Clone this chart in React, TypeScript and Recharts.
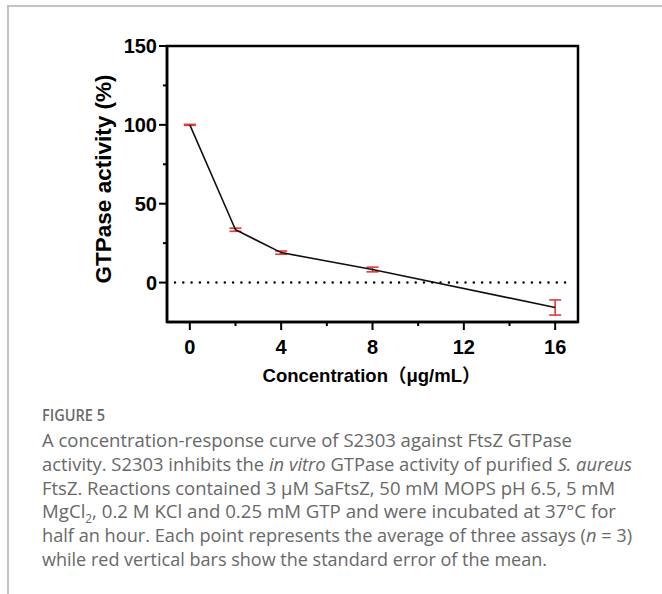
import React from 'react';
import {
  LineChart,
  Line,
  XAxis,
  YAxis,
  ErrorBar,
  ReferenceLine,
  ReferenceArea,
} from 'recharts';

// concentration (µg/mL) vs remaining GTPase activity (%)
const concentrations = [0, 2, 4, 8, 16];
const activity = [100, 33.5, 19, 8.3, -15.8];
const sem = [0.3, 1, 1, 1.5, 4.8];

const xTicks = [0, 2, 4, 6, 8, 10, 12, 14, 16];
const xLabelled = [0, 4, 8, 12, 16];
const yTicks = [0, 25, 50, 75, 100, 125, 150];
const yLabelled = [0, 50, 100, 150];

const chartData = concentrations.map((x, i) => ({ x, y: activity[i], err: sem[i] }));

const AXIS_FONT = '"Liberation Sans", Arial, "Noto Sans CJK SC", sans-serif';
const CAPTION_FONT = '"Open Sans", "Noto Sans", sans-serif';
const RED = '#e53935';

const XTick = (props: any) => {
  const { x, y, payload } = props;
  const major = xLabelled.includes(payload.value);
  return (
    <g>
      <line x1={x} x2={x} y1={y} y2={y + (major ? 8 : 4)} stroke="#000" strokeWidth={2} />
      {major && (
        <text x={x} y={y + 32} textAnchor="middle" fontFamily={AXIS_FONT} fontWeight="bold" fontSize={20} fill="#000">
          {payload.value}
        </text>
      )}
    </g>
  );
};

const YTick = (props: any) => {
  const { x, y, payload } = props;
  const major = yLabelled.includes(payload.value);
  return (
    <g>
      <line x1={x} x2={x - (major ? 8 : 4)} y1={y} y2={y} stroke="#000" strokeWidth={2} />
      {major && (
        <text x={x - 10} y={y + 7} textAnchor="end" fontFamily={AXIS_FONT} fontWeight="bold" fontSize={20} fill="#000">
          {payload.value}
        </text>
      )}
    </g>
  );
};

// caption line: baseline offset from the first line and width it spans in the figure
const CapLine = ({ i, w, children }: { i: number; w: number; children: React.ReactNode }) => (
  <text
    x={42}
    y={447 + i * 23.8}
    textLength={w}
    lengthAdjust="spacingAndGlyphs"
    fontFamily={CAPTION_FONT}
    fontSize={19}
    fill="#686868"
  >
    {children}
  </text>
);

export default function App() {
  return (
    <div style={{ position: 'absolute', left: 0, top: 0, width: 662, height: 594, background: '#fff', overflow: 'hidden' }}>
      {/* page frame */}
      <div style={{ position: 'absolute', left: 7, top: 5, right: 0, height: 2, background: '#c4c4c4' }} />
      <div style={{ position: 'absolute', left: 7, top: 5, bottom: 0, width: 2, background: '#c4c4c4' }} />

      <div style={{ position: 'absolute', left: 0, top: 0 }}>
        <LineChart width={662} height={400} data={chartData} margin={{ top: 46, right: 84, left: 0, bottom: 0 }}>
          <XAxis
            dataKey="x"
            type="number"
            domain={[-1, 17]}
            ticks={xTicks}
            interval={0}
            height={78}
            tickLine={false}
            tickSize={0}
            tickMargin={0}
            tick={<XTick />}
            axisLine={{ stroke: '#000', strokeWidth: 2.5 }}
            label={(p: any) => {
              const vb = p.viewBox;
              return (
                <text x={vb.x + vb.width / 2 - 1} y={vb.y + 60} textAnchor="middle" fontFamily={AXIS_FONT} fontWeight="bold" fontSize={18.5} fill="#000">
                  Concentration（μg/mL）
                </text>
              );
            }}
          />
          <YAxis
            type="number"
            domain={[-25, 150]}
            ticks={yTicks}
            interval={0}
            width={167}
            tickLine={false}
            tickSize={0}
            tickMargin={0}
            tick={<YTick />}
            axisLine={{ stroke: '#000', strokeWidth: 2.5 }}
            label={(p: any) => {
              const vb = p.viewBox;
              return (
                <text
                  transform={`translate(${vb.x + 111}, ${vb.y + vb.height / 2 - 5}) rotate(-90)`}
                  textAnchor="middle"
                  fontFamily={AXIS_FONT}
                  fontWeight="bold"
                  fontSize={22.5}
                  fill="#000"
                >
                  GTPase activity (%)
                </text>
              );
            }}
          />
          <ReferenceArea x1={-1} x2={17} y1={-25} y2={150} fill="none" stroke="#000" strokeWidth={2.5} ifOverflow="visible" />
          <ReferenceLine
            segment={[{ x: -0.65, y: 0 }, { x: 16.6, y: 0 }]}
            stroke="#000"
            strokeWidth={2.5}
            strokeDasharray="0 8.3"
            strokeLinecap="round"
          />
          <Line
            dataKey="y"
            type="linear"
            stroke="#111"
            strokeWidth={1.6}
            dot={false}
            activeDot={false}
            isAnimationActive={false}
          >
            <ErrorBar dataKey="err" direction="y" width={6} stroke={RED} strokeWidth={1.6} isAnimationActive={false} />
          </Line>
        </LineChart>
      </div>

      <svg width={662} height={200} viewBox="0 400 662 200" style={{ position: 'absolute', left: 0, top: 400 }}>
        <text x={42} y={421} textLength={63} lengthAdjust="spacingAndGlyphs" fontFamily={CAPTION_FONT} fontSize={16} fontWeight={600} fill="#6a6a6a">
          FIGURE 5
        </text>
        <CapLine i={0} w={530}>A concentration-response curve of S2303 against FtsZ GTPase</CapLine>
        <CapLine i={1} w={590}>
          activity. S2303 inhibits the <tspan fontStyle="italic">in vitro</tspan> GTPase activity of purified{' '}
          <tspan fontStyle="italic">S. aureus</tspan>
        </CapLine>
        <CapLine i={2} w={573}>FtsZ. Reactions contained 3 μM SaFtsZ, 50 mM MOPS pH 6.5, 5 mM</CapLine>
        <CapLine i={3} w={574}>
          MgCl<tspan fontSize={12} dy={5}>2</tspan>
          <tspan dy={-5}>, 0.2 M KCl and 0.25 mM GTP and were incubated at 37°C for</tspan>
        </CapLine>
        <CapLine i={4} w={590}>
          half an hour. Each point represents the average of three assays (<tspan fontStyle="italic">n</tspan> = 3)
        </CapLine>
        <CapLine i={5} w={505}>while red vertical bars show the standard error of the mean.</CapLine>
      </svg>
    </div>
  );
}
